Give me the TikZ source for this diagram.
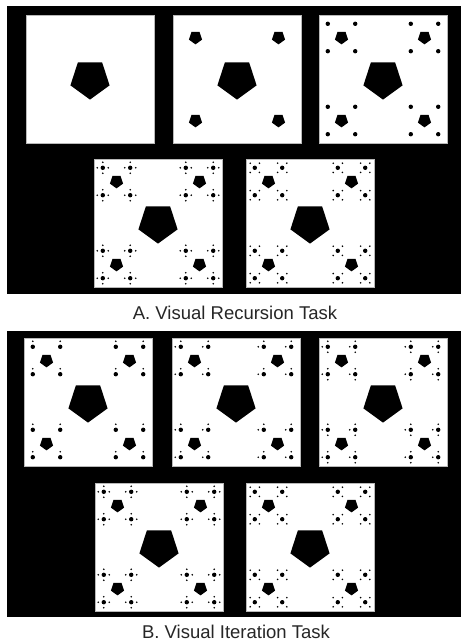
\documentclass[tikz,border=0pt]{standalone}
\usepackage{fontspec}
\setmainfont{Liberation Sans}
\newcommand\pent[3]{\fill (#1,#2) +(90:#3) -- +(162:#3) -- +(234:#3) -- +(306:#3) -- +(18:#3) -- cycle;}
% #1 left x, #2 top y, #3 max level, #4 list of level-4 offsets
\newcommand\fracsq[4]{%
  \begin{scope}[shift={(#1+64,#2+64)}]
    \filldraw[fill=white,draw=gray!55,line width=0.8] (-64,-64) rectangle (64,64);
    \pent{0}{0}{20.6}
    \ifnum#3>1
    \foreach \a/\b in {-1/-1,1/-1,-1/1,1/1}{
      \pent{\a*41.5}{\b*41.5}{6.9}
      \ifnum#3>2
      \foreach \c/\d in {-1/-1,1/-1,-1/1,1/1}{
        \fill (\a*41.5+\c*13.7,\b*41.5+\d*13.7) circle (2.2);
        \ifnum#3>3
        \foreach \e/\f in {#4}{\fill (\a*41.5+\c*13.7+\e,\b*41.5+\d*13.7+\f) circle (0.9);}
        \fi
      }
      \fi
    }
    \fi
  \end{scope}}
\tikzset{caption/.style={font=\fontsize{18.5}{22}\selectfont,text=black!85,inner sep=0pt}}
\begin{document}
\begin{tikzpicture}[x=1pt,y=-1pt]
  \fill[white] (0,0) rectangle (461,642);
  \useasboundingbox (0,0) rectangle (461,642);
  % panel A
  \fill[black] (7,6) rectangle (461,294);
  \fracsq{26}{15}{1}{}
  \fracsq{173}{15}{2}{}
  \fracsq{319}{15}{3}{}
  \fracsq{94}{159}{4}{0/-5.5,-5.5/0,5.5/0,0/5.5}
  \fracsq{246}{159}{4}{-4.6/-4.6,4.6/-4.6,-4.6/4.6,4.6/4.6}
  \node[caption] (labA) at (235,312.5) {A. Visual Recursion Task};
  % panel B
  \fill[black] (7,331) rectangle (461,617);
  \fracsq{24}{338}{4}{0/-5.5}
  \fracsq{172}{338}{4}{0/-5.5,-5.5/0}
  \fracsq{319}{338}{4}{0/-5.5,-5.5/0,0/5.5}
  \fracsq{95}{483}{4}{0/-5.5,-5.5/0,5.5/0,0/5.5}
  \fracsq{246}{483}{4}{-4.6/-4.6,4.6/-4.6,-4.6/4.6,4.6/4.6}
  \node[caption] (labB) at (236,632) {B. Visual Iteration Task};
\end{tikzpicture}
\end{document}
